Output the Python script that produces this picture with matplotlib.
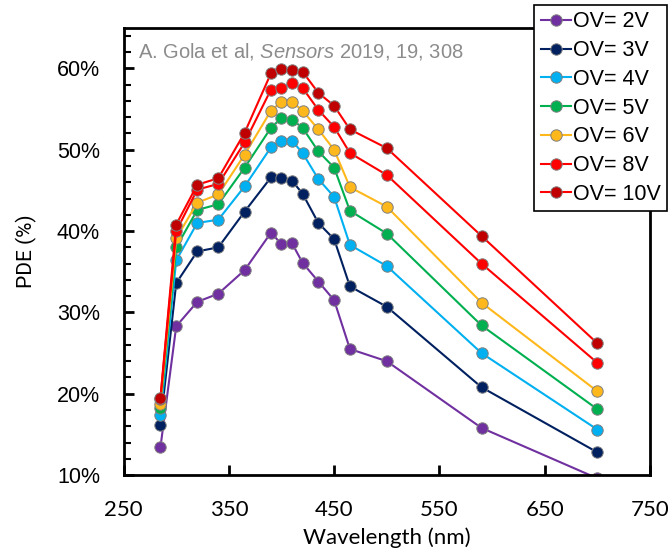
import matplotlib
matplotlib.use('Agg')
from matplotlib import pyplot as plt
from matplotlib.ticker import FixedLocator, MultipleLocator, FuncFormatter

wavelength = [285, 300, 320, 340, 365, 390, 400, 410, 420, 435, 450, 465, 500, 590, 700]

pde_2v = [13.4, 28.3, 31.3, 32.3, 35.2, 39.8, 38.4, 38.5, 36.1, 33.8, 31.5, 25.5, 24.0, 15.8, 9.6]
pde_3v = [16.2, 33.6, 37.5, 38.0, 42.4, 46.6, 46.5, 46.2, 44.6, 41.0, 39.0, 33.2, 30.7, 20.8, 12.8]
pde_4v = [17.4, 36.4, 41.0, 41.4, 45.5, 50.3, 51.1, 51.1, 49.6, 46.4, 44.2, 38.3, 35.7, 25.0, 15.6]
pde_5v = [18.3, 38.0, 42.6, 43.3, 47.8, 52.7, 53.9, 53.7, 52.7, 49.8, 47.8, 42.5, 39.7, 28.4, 18.1]
pde_6v = [18.8, 39.1, 43.5, 44.5, 49.4, 54.8, 55.9, 55.9, 54.8, 52.5, 50.0, 45.4, 43.0, 31.2, 20.3]
pde_8v = [19.4, 40.0, 45.1, 45.8, 50.9, 57.4, 57.6, 58.2, 57.6, 54.9, 52.8, 49.6, 46.9, 36.0, 23.8]
pde_10v = [19.5, 40.8, 45.7, 46.5, 52.1, 59.4, 59.9, 59.8, 59.6, 57.0, 55.4, 52.5, 50.2, 39.4, 26.2]

labels = ['OV= 2V', 'OV= 3V', 'OV= 4V', 'OV= 5V', 'OV= 6V', 'OV= 8V', 'OV= 10V']
series = [pde_2v, pde_3v, pde_4v, pde_5v, pde_6v, pde_8v, pde_10v]
marker_colors = ['#7030A0', '#002060', '#00B0F0', '#00B050', '#FFB81C', '#FF0000', '#C00000']
line_colors = ['#7030A0', '#002060', '#00B0F0', '#00B050', '#FFB81C', '#FF0000', '#FF0000']

xticks = [250, 350, 450, 550, 650, 750]

plt.rcParams['font.family'] = ['Liberation Sans', 'DejaVu Sans']
plt.rcParams['mathtext.fontset'] = 'custom'
plt.rcParams['mathtext.rm'] = 'Liberation Sans'
plt.rcParams['mathtext.it'] = 'Liberation Sans:italic'

fig = plt.figure(figsize=(6.68, 5.55), dpi=100)
ax = fig.add_axes([0.185, 0.144, 0.788, 0.806])

for y, lab, mc, lc in zip(series, labels, marker_colors, line_colors):
    ax.plot(wavelength, y, color=lc, lw=1.5, marker='o', markersize=8.2,
            markerfacecolor=mc, markeredgecolor='#808080', markeredgewidth=0.7,
            label=lab)

ax.set_xlim(250, 750)
ax.set_ylim(10, 65)
ax.xaxis.set_major_locator(FixedLocator(xticks))
ax.yaxis.set_major_locator(MultipleLocator(10))
ax.yaxis.set_minor_locator(MultipleLocator(2))
ax.yaxis.set_major_formatter(FuncFormatter(lambda v, p: '%d%%' % v if v <= 60 else ''))

for s in ax.spines.values():
    s.set_linewidth(2)
    s.set_color('black')
ax.tick_params(axis='both', which='major', direction='in', length=7, width=2)
ax.tick_params(axis='y', which='minor', direction='in', length=5, width=1.5)
ax.tick_params(axis='y', labelsize=15.5, pad=17)
ax.tick_params(axis='x', labelsize=16, pad=18)
for t in ax.get_xticklabels():
    t.set_fontfamily('Lato')

ax.set_xlabel('Wavelength (nm)', fontsize=16, labelpad=5, fontfamily='Lato')
ax.set_ylabel('PDE (%)', fontsize=15, labelpad=14, fontfamily='Roboto')

ax.text(0.028, 0.97, 'A. Gola et al, $\\mathit{Sensors}$ 2019, 19, 308',
        transform=ax.transAxes, fontsize=14.5, color='#8c8c8c', va='top', ha='left')

leg = fig.legend(loc='upper right', bbox_to_anchor=(0.999, 0.991),
                 fontsize=15.5, handlelength=1.4, handletextpad=0.1,
                 labelspacing=0.36, borderpad=0.3, borderaxespad=0.0,
                 fancybox=False, framealpha=1, edgecolor='black')
leg.get_frame().set_linewidth(1.2)

fig.savefig('out.png', dpi=100)
